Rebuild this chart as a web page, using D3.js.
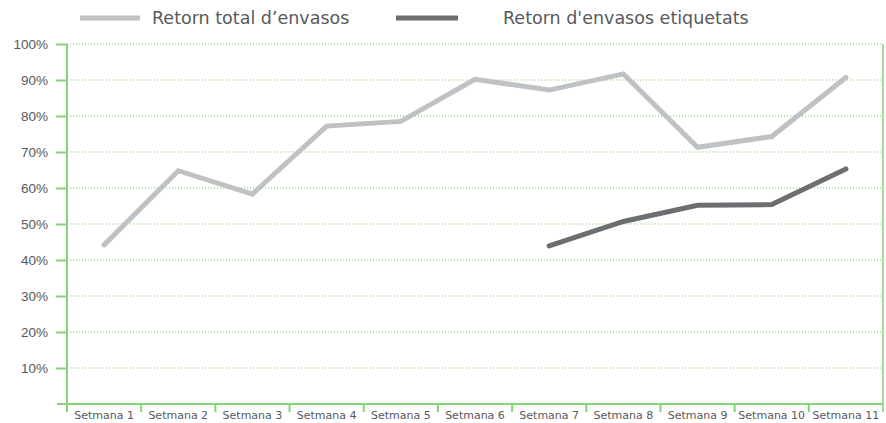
<!DOCTYPE html>
<html>
<head>
<meta charset="utf-8">
<script src="https://cdn.jsdelivr.net/npm/d3@7"></script>
<style>
  body { margin: 0; background: #fff; }
  svg { display: block; font-family: "DejaVu Sans", sans-serif; }
</style>
</head>
<body>
<svg id="chart"></svg>
<script>
const width = 886;
const height = 423;

// dades llegides del gràfic
const setmanes = ["Setmana 1", "Setmana 2", "Setmana 3", "Setmana 4", "Setmana 5", "Setmana 6",
    "Setmana 7", "Setmana 8", "Setmana 9", "Setmana 10", "Setmana 11"];
const retornTotal = [44.2, 64.8, 58.3, 77.2, 78.5, 90.2, 87.2, 91.7, 71.3, 74.3, 90.7];
const retornEtiquetats = [null, null, null, null, null, null, 43.9, 50.7, 55.2, 55.4, 65.3];
const yTicks = [10, 20, 30, 40, 50, 60, 70, 80, 90, 100];
const series = [
    { name: "Retorn total d’envasos", values: retornTotal, color: "#c0c1c3" },
    { name: "Retorn d'envasos etiquetats", values: retornEtiquetats, color: "#6d6e71" }
];

const margin = { left: 67, right: 3, top: 44, bottom: 19 };
const green = "#86d477";

const svg = d3.select("#chart")
    .attr("width", width)
    .attr("height", height);

const x = d3.scaleBand()
    .domain(setmanes)
    .range([margin.left, width - margin.right]);

const y = d3.scaleLinear()
    .domain([0, 100])
    .range([height - margin.bottom, margin.top]);

// línies de la graella (puntejades)
svg.append("g")
    .selectAll("line")
    .data(yTicks)
    .join("line")
    .attr("x1", margin.left)
    .attr("x2", width - margin.right)
    .attr("y1", d => y(d))
    .attr("y2", d => y(d))
    .attr("stroke", "#6ccb5a")
    .attr("stroke-width", 1)
    .attr("stroke-dasharray", "1,2");

// eix Y
const yAxis = svg.append("g")
    .attr("transform", `translate(${margin.left},0)`)
    .call(d3.axisLeft(y).tickValues(yTicks).tickSize(11).tickFormat(d => d + "%"));
yAxis.select(".domain").remove();
yAxis.selectAll(".tick line").attr("stroke", green).attr("stroke-width", 2);
yAxis.selectAll(".tick text")
    .attr("x", -19)
    .attr("fill", "#58595b")
    .style("font-size", "13.5px");

svg.append("line")
    .attr("x1", margin.left).attr("x2", margin.left)
    .attr("y1", margin.top).attr("y2", height - margin.bottom + 8)
    .attr("stroke", green).attr("stroke-width", 2);

svg.append("line")
    .attr("x1", width - margin.right).attr("x2", width - margin.right)
    .attr("y1", margin.top).attr("y2", height - margin.bottom + 8)
    .attr("stroke", green).attr("stroke-width", 1.5);

// eix X
svg.append("line")
    .attr("x1", margin.left - 10).attr("x2", width - margin.right)
    .attr("y1", y(0)).attr("y2", y(0))
    .attr("stroke", green).attr("stroke-width", 2);

svg.append("g")
    .selectAll("line")
    .data(setmanes.slice(1))
    .join("line")
    .attr("x1", d => x(d)).attr("x2", d => x(d))
    .attr("y1", y(0)).attr("y2", y(0) + 8)
    .attr("stroke", green).attr("stroke-width", 2);

svg.append("g")
    .selectAll("text")
    .data(setmanes)
    .join("text")
    .attr("x", d => x(d) + x.bandwidth() / 2)
    .attr("y", y(0) + 15)
    .attr("text-anchor", "middle")
    .attr("fill", "#58595b")
    .style("font-size", "11px")
    .text(d => d);

// línies de dades
const line = d3.line()
    .defined(d => d != null)
    .x((d, i) => x(setmanes[i]) + x.bandwidth() / 2)
    .y(d => y(d));

svg.append("g")
    .selectAll("path")
    .data(series)
    .join("path")
    .attr("d", d => line(d.values))
    .attr("fill", "none")
    .attr("stroke", d => d.color)
    .attr("stroke-width", 5)
    .attr("stroke-linecap", "round")
    .attr("stroke-linejoin", "miter");

// llegenda
const legendX = [80, 396];
const legend = svg.append("g")
    .selectAll("g")
    .data(series)
    .join("g")
    .attr("transform", (d, i) => `translate(${legendX[i]},18)`);

legend.append("line")
    .attr("x1", 0).attr("x2", (d, i) => i == 0 ? 60 : 62)
    .attr("stroke", d => d.color)
    .attr("stroke-width", 5);

legend.append("text")
    .attr("x", (d, i) => i == 0 ? 72 : 107)
    .attr("y", 6)
    .attr("fill", "#58595b")
    .style("font-size", "17.5px")
    .text(d => d.name);
</script>
</body>
</html>
